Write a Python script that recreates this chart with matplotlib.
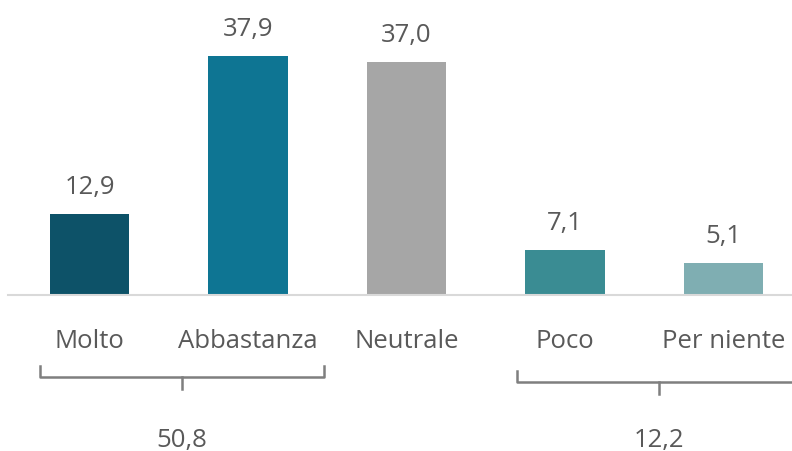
import matplotlib.pyplot as plt
from matplotlib.transforms import blended_transform_factory

categories = ['Molto', 'Abbastanza', 'Neutrale', 'Poco', 'Per niente']
values = [12.9, 37.9, 37.0, 7.1, 5.1]
colors = ['#0D5268', '#0E7593', '#A6A6A6', '#3A8C93', '#7FAEB2']
group_labels = ['50,8', '12,2']
group_spans = [(-0.31, 1.48), (2.70, 4.49)]

plt.rcParams['font.family'] = ['Open Sans', 'DejaVu Sans']
text_color = '#595959'
brace_color = '#7F7F7F'
fs = 18.5

fig = plt.figure(figsize=(7.92, 4.52), dpi=100)
ax = fig.add_axes([8 / 792, 0.345, 784 / 792, 0.655])

x = range(len(categories))
bars = ax.bar(x, values, width=0.5, color=colors)
for b, v in zip(bars, values):
    ax.annotate('{:.1f}'.format(v).replace('.', ','),
                (b.get_x() + b.get_width() / 2, v),
                xytext=(0, 21), textcoords='offset pixels',
                ha='center', va='baseline', fontsize=fs, color=text_color)

ax.set_xlim(-0.514, 4.432)
ax.set_ylim(0, 47)
for s in ['top', 'right', 'left']:
    ax.spines[s].set_visible(False)
ax.spines['bottom'].set_color('#D9D9D9')
ax.spines['bottom'].set_linewidth(1.5)
ax.set_yticks([])
ax.set_xticks([])

tr = blended_transform_factory(ax.transData, fig.transFigure)
for i, c in enumerate(categories):
    fig.text(i, 0.230, c, transform=tr, ha='center', va='baseline',
             fontsize=fs, color=text_color)

# braces under the groups
for (x0, x1), lab, dy in zip(group_spans, group_labels, [0.0, -0.011]):
    xm = (x0 + x1) / 2
    ytop = 0.188 + dy
    yline = 0.163 + dy
    ytick = 0.138 + dy
    ax.plot([x0, x0, x1, x1], [ytop, yline, yline, ytop], transform=tr,
            color=brace_color, lw=1.8, clip_on=False, solid_joinstyle='round')
    ax.plot([xm, xm], [yline, ytick], transform=tr,
            color=brace_color, lw=1.8, clip_on=False)
    fig.text(xm, 0.012, lab, transform=tr, ha='center', va='baseline',
             fontsize=fs, color=text_color)

fig.savefig('out.png', dpi=100)
